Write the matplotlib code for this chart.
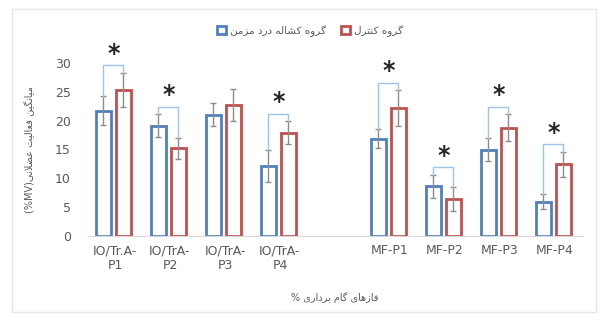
import matplotlib
matplotlib.use('Agg')
import matplotlib.pyplot as plt
from matplotlib.patches import Rectangle

# category labels (slot 4 is the blank gap between the two groups)
labels = ['IO/Tr.A-\nP1', 'IO/TrA-\nP2', 'IO/TrA-\nP3', 'IO/TrA-\nP4', '',
          'MF-P1', 'MF-P2', 'MF-P3', 'MF-P4']
slots = [0, 1, 2, 3, 5, 6, 7, 8]

pain_mean = [21.7, 19.1, 21.0, 12.2, 16.9, 8.6, 15.0, 5.9]
pain_err = [2.5, 2.0, 2.0, 2.8, 1.7, 2.0, 2.0, 1.3]
ctrl_mean = [25.3, 15.2, 22.7, 17.9, 22.2, 6.4, 18.8, 12.4]
ctrl_err = [3.0, 1.8, 2.8, 2.0, 3.1, 2.1, 2.3, 2.2]
significant = [True, True, False, True, True, True, True, True]

BLUE = '#4f81bd'
RED = '#c0504d'
GREY = '#595959'

# minimal arabic/persian shaping: (isolated, final, initial, medial)
FORMS = {
    'ا': ('\uFE8D', '\uFE8E', None, None),
    'ب': ('\uFE8F', '\uFE90', '\uFE91', '\uFE92'),
    'ت': ('\uFE95', '\uFE96', '\uFE97', '\uFE98'),
    'د': ('\uFEA9', '\uFEAA', None, None),
    'ر': ('\uFEAD', '\uFEAE', None, None),
    'ز': ('\uFEAF', '\uFEB0', None, None),
    'ش': ('\uFEB5', '\uFEB6', '\uFEB7', '\uFEB8'),
    'ض': ('\uFEBD', '\uFEBE', '\uFEBF', '\uFEC0'),
    'ع': ('\uFEC9', '\uFECA', '\uFECB', '\uFECC'),
    'ف': ('\uFED1', '\uFED2', '\uFED3', '\uFED4'),
    'ل': ('\uFEDD', '\uFEDE', '\uFEDF', '\uFEE0'),
    'م': ('\uFEE1', '\uFEE2', '\uFEE3', '\uFEE4'),
    'ن': ('\uFEE5', '\uFEE6', '\uFEE7', '\uFEE8'),
    'ه': ('\uFEE9', '\uFEEA', '\uFEEB', '\uFEEC'),
    'و': ('\uFEED', '\uFEEE', None, None),
    'ک': ('\uFB8E', '\uFB8F', '\uFB90', '\uFB91'),
    'گ': ('\uFB92', '\uFB93', '\uFB94', '\uFB95'),
    'ی': ('\uFBFC', '\uFBFD', '\uFBFE', '\uFBFF'),
}


def rtl(text):
    out = []
    i = 0
    while i < len(text):
        c = text[i]
        if c not in FORMS:
            out.append(c)
            i += 1
            continue
        prev = text[i - 1] if i > 0 else None
        nxt = text[i + 1] if i + 1 < len(text) else None
        jp = prev in FORMS and FORMS[prev][2] is not None
        if c == 'ل' and nxt == 'ا':
            out.append('\uFEFC' if jp else '\uFEFB')
            i += 2
            continue
        jn = FORMS[c][2] is not None and nxt in FORMS
        iso, fin, ini, med = FORMS[c]
        if jp and jn:
            out.append(med)
        elif jp:
            out.append(fin)
        elif jn:
            out.append(ini)
        else:
            out.append(iso)
        i += 1
    return ''.join(reversed(out))


fig = plt.figure(figsize=(5.98, 3.18), dpi=100)
fig.patches.append(Rectangle((12 / 598, 6 / 318), 584 / 598, 303 / 318,
                             transform=fig.transFigure, fill=False,
                             edgecolor='#e6e6e6', lw=1))
ax = fig.add_axes([87.5 / 598, 1 - 236 / 318, 495 / 598, 173 / 318])

w = 0.27
off = 0.18
xb = [s - off - 0.03 for s in slots]
xr = [s + off - 0.03 for s in slots]
ax.bar(xb, pain_mean, w, facecolor='white', edgecolor=BLUE, linewidth=2)
ax.bar(xr, ctrl_mean, w, facecolor='white', edgecolor=RED, linewidth=2)
ax.errorbar(xb, pain_mean, yerr=pain_err, fmt='none', ecolor='#8c8c8c',
            elinewidth=1, capsize=2.5, capthick=1)
ax.errorbar(xr, ctrl_mean, yerr=ctrl_err, fmt='none', ecolor='#8c8c8c',
            elinewidth=1, capsize=2.5, capthick=1)

# significance brackets
for i in range(len(slots)):
    if not significant[i]:
        continue
    tb = pain_mean[i] + pain_err[i]
    tr = ctrl_mean[i] + ctrl_err[i]
    h = max(tb, tr) + 1.3
    ax.plot([xb[i], xb[i], xr[i], xr[i]], [tb, h, h, tr], color='#9dc3e6',
            lw=1, clip_on=False)
    ax.text((xb[i] + xr[i]) / 2, h + 2.0, '*', ha='center', va='center',
            fontsize=17, fontweight='bold', color='#262626', clip_on=False)

ax.set_xlim(-0.5, 8.5)
ax.set_ylim(0, 30)
ax.set_yticks(range(0, 31, 5))
ax.set_xticks(range(9))
ax.set_xticklabels(labels)
ax.tick_params(axis='both', length=0, colors=GREY, labelsize=9)
ax.tick_params(axis='y', pad=12)
ax.tick_params(axis='x', pad=6)
for s in ['top', 'right', 'left']:
    ax.spines[s].set_visible(False)
ax.spines['bottom'].set_color('#d9d9d9')

ax.set_ylabel('(%MV)' + rtl('میانگین فعالیت عضلانی'), fontsize=7,
              color=GREY, labelpad=14)
ax.set_xlabel('% ' + rtl('فازهای گام برداری'), fontsize=7, color=GREY,
              labelpad=14)

handles = [Rectangle((0, 0), 1, 1, facecolor='white', edgecolor=BLUE, lw=2),
           Rectangle((0, 0), 1, 1, facecolor='white', edgecolor=RED, lw=2)]
fig.legend(handles, [rtl('گروه کشاله درد مزمن'), rtl('گروه کنترل')],
           loc='center', bbox_to_anchor=(310 / 598, 1 - 31 / 318), ncol=2,
           frameon=False, fontsize=7.5, labelcolor=GREY, handlelength=0.8,
           handleheight=0.8, handletextpad=0.4, columnspacing=1.5)

fig.savefig('out.png', dpi=100)
